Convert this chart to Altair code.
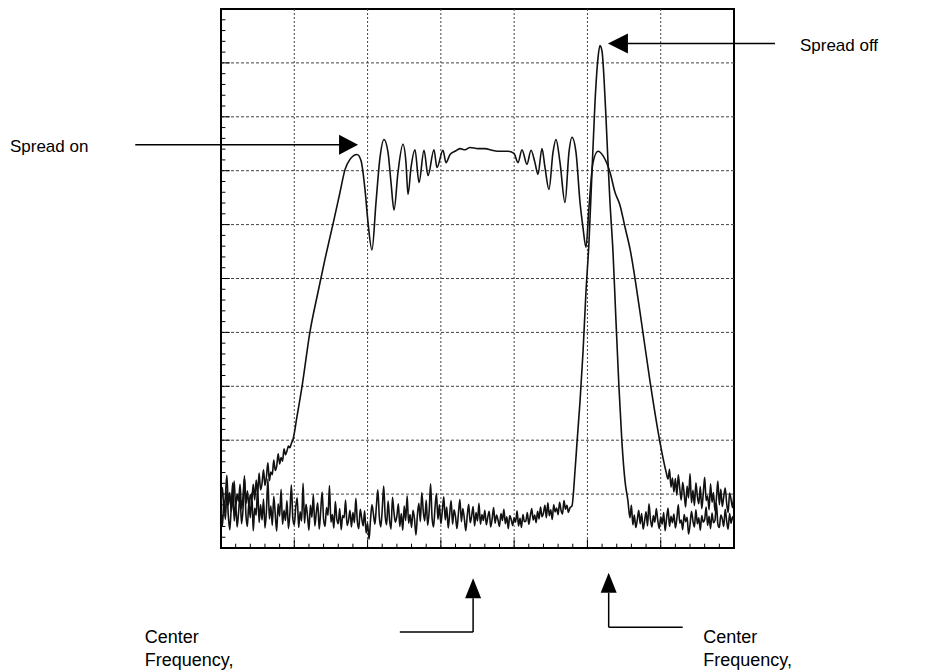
import altair as alt
import pandas as pd

# ---------------- data (frequency in 1/100 division, level in 1/10 division) ----------------
STEP = 2  # sweep step of the noisy parts

# Spread off trace
off_left_start = 0
off_left_noise = [
    7.2, 4.1, 8.9, 5.3, 10.6, 6.0, 3.4, 7.7, 12.1, 5.0,
    8.3, 3.9, 6.6, 9.8, 4.5, 7.1, 13.4, 6.2, 4.0, 8.5,
    5.6, 10.2, 3.2, 7.4, 6.1, 11.3, 4.7, 8.0, 5.2, 9.1,
    3.7, 6.9, 12.8, 5.4, 7.8, 4.2, 9.6, 6.3, 3.1, 8.2,
    5.9, 10.9, 4.4, 7.0, 5.1, 8.8, 3.6, 6.4, 11.7, 5.5,
    4.3, 7.6, 9.3, 3.8, 6.7, 5.0, 12.0, 4.6, 8.1, 6.0,
    3.3, 7.9, 5.7, 9.9, 4.1, 6.5, 8.4, 3.5, 6.8, 10.4,
    5.3, 4.0, 7.5, 6.1, 11.6, 4.8, 6.2, 3.7, 8.6, 5.4,
    4.5, 7.3, 3.4, 6.0, 5.6, 8.9, 4.2, 5.1, 7.0, 3.9,
    6.6, 4.7, 9.2, 5.0, 3.6, 7.2, 5.5, 4.1, 6.9, 2.8,
    4.6, 1.6, 5.2, 8.0, 6.3, 4.4, 7.7, 10.8, 5.8, 3.9,
    7.1, 11.5, 6.0, 4.3, 8.7, 5.2, 3.5, 9.4, 6.6, 4.8,
    5.9, 8.2, 4.0, 6.4, 3.3, 7.8, 5.1, 9.7, 4.6, 6.2,
    3.8, 7.0, 5.4, 2.4, 6.1, 8.3, 4.9, 10.3, 6.8, 5.0,
    8.9, 4.2, 6.7, 11.9, 5.6, 3.9, 7.4, 10.1, 5.3, 8.0,
    4.5, 6.9, 9.5, 5.2, 7.6, 3.7, 6.3, 8.8, 4.4, 7.1,
    5.8, 3.6, 6.5, 9.0, 4.9, 7.3, 5.5, 3.2, 6.0, 8.1,
    4.7, 5.9, 7.7, 4.1, 6.6, 5.0, 8.3, 4.4, 6.2, 5.1,
    7.0, 4.3, 5.7, 6.8, 3.9, 5.4, 7.5, 4.6, 6.1, 5.2,
    4.0, 6.4, 5.1, 7.2, 4.5, 5.8, 3.6, 6.0, 5.3, 4.2,
    5.6, 4.8, 6.9, 4.1, 5.5, 3.8, 6.2, 4.9, 5.0, 6.6,
    4.4, 5.9, 7.3, 5.2, 6.1, 4.7, 6.8, 5.4, 7.6, 5.8,
    6.5, 7.9, 5.6, 8.4, 6.0, 7.1, 5.3, 8.0, 6.7, 7.4,
    6.2, 8.5, 7.0, 6.3, 8.8, 7.2, 7.9, 6.6, 7.4,
]
off_peak_f = [478.9, 483.0, 485.8, 489.9, 494.0, 498.0, 502.1, 506.2, 510.3, 514.4, 517.1,
              519.9, 522.6, 525.3, 528.1, 530.8, 534.9, 539.0, 543.0, 547.1, 551.3, 555.3]
off_peak_v = [7.8, 14.2, 19.6, 27.2, 36.4, 47.5, 56.7, 69.7, 82.6, 90.9, 93.2,
              92.2, 87.2, 79.9, 71.5, 64.1, 54.9, 42.0, 29.9, 19.6, 12.4, 8.7]
off_right_start = 558
off_right_noise = [
    5.6, 7.9, 4.3, 6.1, 3.8, 5.2, 7.0, 4.5, 6.4, 3.5,
    5.0, 6.7, 4.1, 8.2, 5.3, 3.9, 6.0, 4.8, 7.3, 5.1,
    3.6, 5.8, 4.4, 6.6, 3.2, 5.5, 7.4, 4.0, 5.9, 4.7,
    6.3, 3.7, 5.4, 8.0, 4.6, 5.2, 3.4, 6.2, 4.9, 5.7,
    2.6, 4.3, 6.8, 5.0, 3.9, 7.1, 4.5, 5.6, 3.3, 6.0,
    4.8, 5.3, 7.6, 4.2, 5.9, 3.6, 6.5, 4.7, 5.1, 8.3,
    4.4, 3.8, 6.1, 5.4, 4.0, 7.2, 5.0, 3.5, 6.4, 4.6,
    5.8, 4.9,
]

# Spread on trace
on_left_start = 0
on_left_noise = [
    8.4, 11.2, 7.1, 9.6, 13.5, 8.0, 10.3, 6.8, 9.1, 12.4,
    7.5, 10.0, 8.7, 11.8, 7.3, 9.4, 13.0, 8.2, 10.6, 7.8, 9.9,
    9.0, 11.8, 8.9, 12.6, 10.2, 13.9, 10.8, 12.0, 14.5, 11.6,
    13.2, 15.8, 12.5, 14.1, 13.6, 16.3, 14.4, 15.2, 17.5, 15.6,
    16.8, 16.1, 18.4, 17.3, 18.0, 18.9, 18.6, 19.4,
]
on_lobe_f = [98.2, 103.7, 110.5, 121.4, 132.4, 141.9, 152.8, 162.4, 169.2, 176.0, 185.6,
             191.0, 196.5, 200.6, 206.0, 211.5, 217.0, 222.4, 227.9, 232.0, 236.1, 241.5,
             248.3, 252.4, 255.2, 259.3, 264.7, 270.2, 277.0, 282.5, 290.6, 294.7, 302.9,
             307.0, 312.5, 319.3, 326.1, 332.9, 339.8, 350.7, 360.2, 369.8, 380.7, 391.6,
             399.8, 405.3, 410.7, 417.5, 423.0, 428.4, 432.5, 438.0, 442.1, 447.5, 453.0,
             457.1, 462.6, 469.4, 474.8, 478.9, 484.4, 489.9, 493.9, 498.0, 502.1, 507.6,
             514.4, 521.2, 530.8, 537.6, 544.4, 551.3, 558.1, 571.7, 585.4, 599.0, 607.2]
on_lobe_v = [20.1, 24.4, 29.9, 40.1, 47.5, 53.6, 60.1, 66.0, 70.2, 72.1, 73.0,
             71.9, 66.5, 60.4, 55.3, 64.1, 72.5, 75.8, 73.4, 67.8, 62.7, 69.7,
             74.9, 71.5, 65.6, 70.6, 73.9, 67.8, 73.8, 69.1, 73.9, 70.6, 73.8,
             71.5, 73.0, 73.6, 74.1, 73.9, 74.3, 74.1, 74.1, 73.8, 73.6, 73.6,
             73.2, 71.5, 73.9, 71.2, 73.8, 71.5, 69.3, 74.1, 70.6, 66.5, 73.4,
             75.8, 71.5, 64.1, 73.4, 76.2, 73.4, 64.1, 59.5, 55.8, 63.2, 71.5,
             73.6, 72.8, 69.7, 66.0, 63.6, 59.5, 55.5, 43.8, 30.9, 19.6, 14.2]
on_right_start = 610
on_right_noise = [
    12.8, 14.6, 11.3, 13.0, 10.4, 12.9, 9.8, 13.6, 11.0, 8.9,
    12.2, 10.1, 7.6, 11.5, 9.3, 13.8, 8.4, 10.7, 7.9, 12.1,
    9.6, 8.2, 11.4, 7.3, 10.0, 13.1, 8.8, 9.7, 7.1, 11.9,
    8.5, 10.3, 6.9, 9.2, 12.4, 8.0, 10.9, 7.7, 9.5, 11.1,
    8.3, 6.6, 10.2, 9.0, 7.5, 10.6,
]

# graticule and tick marks
grid_f = [100, 200, 300, 400, 500, 600]
grid_v = [10, 20, 30, 40, 50, 60, 70, 80, 90]
minor_f = list(range(20, 700, 20))
minor_v = list(range(2, 100, 2))

# annotations (placed in data units, outside the graticule)
top_text = ["Spread on", "Spread off"]
top_f = [-288, 790]
top_v = [73.4, 92.3]
bottom_text = ["Center", "Frequency,", "Center", "Frequency,"]
bottom_f = [-104, -104, 658, 658]
bottom_v = [-17.6, -21.9, -17.6, -21.9]

seg_f = [-117, 555, 344, 244, 529, 529]
seg_f2 = [163, 756, 344, 344, 529, 630]
seg_v = [74.8, 93.6, -9.3, -15.6, -8.3, -14.7]
seg_v2 = [74.8, 93.6, -15.6, -15.6, -14.7, -14.7]

head_f = [187, 528, 344, 529]
head_v = [74.8, 93.6, -5.6, -4.6]
head_shape = ["M0,0L-1.9,-1L-1.9,1Z", "M0,0L2,-1L2,1Z", "M0,0L-0.8,2L0.8,2Z", "M0,0L-0.8,2L0.8,2Z"]

# ---------------- tables ----------------
rows = []


def add_noise(trace, start, vals):
    for i, v in enumerate(vals):
        rows.append({"trace": trace, "f": start + STEP * i, "level": v})


def add_pts(trace, fs, vs):
    for f, v in zip(fs, vs):
        rows.append({"trace": trace, "f": f, "level": v})


add_noise("off", off_left_start, off_left_noise)
add_pts("off", off_peak_f, off_peak_v)
add_noise("off", off_right_start, off_right_noise)
add_noise("on", on_left_start, on_left_noise)
add_pts("on", on_lobe_f, on_lobe_v)
add_noise("on", on_right_start, on_right_noise)
traces = pd.DataFrame(rows)

xs = alt.Scale(domain=[0, 700], nice=False, zero=False)
ys = alt.Scale(domain=[0, 100], nice=False, zero=False)

lines = alt.Chart(traces).mark_line(
    color="#111111", strokeWidth=1.6, interpolate="monotone", clip=True
).encode(
    x=alt.X("f:Q", scale=xs, axis=None),
    y=alt.Y("level:Q", scale=ys, axis=None),
    detail="trace:N",
    order="f:Q",
)

gx = alt.Chart(pd.DataFrame({"g": grid_f})).mark_rule(
    color="#444444", strokeWidth=1, strokeDash=[2, 2]
).encode(x=alt.X("g:Q", scale=xs, axis=None))
gy = alt.Chart(pd.DataFrame({"g": grid_v})).mark_rule(
    color="#444444", strokeWidth=1, strokeDash=[3, 2]
).encode(y=alt.Y("g:Q", scale=ys, axis=None))

tb = pd.DataFrame({"f": minor_f})
tb["a"] = 0.0
tb["b"] = [1.6 if f % 100 == 0 else 0.8 for f in minor_f]
ticks_b = alt.Chart(tb).mark_rule(color="black", strokeWidth=1).encode(
    x=alt.X("f:Q", scale=xs, axis=None),
    y=alt.Y("a:Q", scale=ys, axis=None),
    y2="b:Q",
)
tl = pd.DataFrame({"v": minor_v})
tl["a"] = 0.0
tl["b"] = [12.0 if v % 10 == 0 else 6.0 for v in minor_v]
ticks_l = alt.Chart(tl).mark_rule(color="black", strokeWidth=1).encode(
    y=alt.Y("v:Q", scale=ys, axis=None),
    x=alt.X("a:Q", scale=xs, axis=None),
    x2="b:Q",
)

segs = alt.Chart(pd.DataFrame({"f": seg_f, "f2": seg_f2, "v": seg_v, "v2": seg_v2})).mark_rule(
    color="black", strokeWidth=1.5
).encode(
    x=alt.X("f:Q", scale=xs, axis=None), x2="f2:Q",
    y=alt.Y("v:Q", scale=ys, axis=None), y2="v2:Q",
)

heads = alt.Chart(pd.DataFrame({"f": head_f, "v": head_v, "s": head_shape})).mark_point(
    filled=True, color="black", size=400, opacity=1, strokeWidth=0
).encode(
    x=alt.X("f:Q", scale=xs, axis=None),
    y=alt.Y("v:Q", scale=ys, axis=None),
    shape=alt.Shape("s:N", scale=None),
)

top_labels = alt.Chart(pd.DataFrame({"f": top_f, "v": top_v, "t": top_text})).mark_text(
    align="left", baseline="alphabetic", font="Liberation Sans", fontSize=17, color="black"
).encode(
    x=alt.X("f:Q", scale=xs, axis=None),
    y=alt.Y("v:Q", scale=ys, axis=None),
    text="t:N",
)
bottom_labels = alt.Chart(pd.DataFrame({"f": bottom_f, "v": bottom_v, "t": bottom_text})).mark_text(
    align="left", baseline="alphabetic", font="Liberation Sans", fontSize=18, color="black"
).encode(
    x=alt.X("f:Q", scale=xs, axis=None),
    y=alt.Y("v:Q", scale=ys, axis=None),
    text="t:N",
)

chart = alt.layer(gx, gy, ticks_b, ticks_l, lines, segs, heads, top_labels, bottom_labels).properties(
    width=513,
    height=539,
    autosize=alt.AutoSizeParams(type="none"),
    padding={"left": 213, "top": 1, "right": 186, "bottom": 122},
).configure(
    background="white",
    view=alt.ViewConfig(stroke="black", strokeWidth=2),
)

chart.save("out.html", embed_options={"renderer": "svg", "actions": False})
